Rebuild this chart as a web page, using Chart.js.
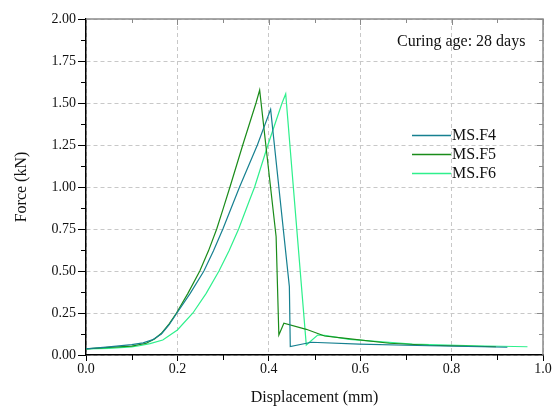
<!DOCTYPE html>
<html>
<head>
<meta charset="utf-8">
<script src="https://cdn.jsdelivr.net/npm/chart.js@4/dist/chart.umd.min.js"></script>
<style>
html,body{margin:0;padding:0;background:#fff;}
#c{display:block;}
</style>
</head>
<body>
<canvas id="c" width="557" height="412"></canvas>
<script>
// ---- data ----
const seriesNames = ["MS.F4", "MS.F5", "MS.F6"];
const seriesColors = ["#168090", "#1a8c1a", "#2ef08c"];

const f4X = [0, 0.05, 0.1, 0.125, 0.145, 0.165, 0.182, 0.199, 0.228, 0.258, 0.279, 0.2995, 0.336, 0.375, 0.404, 0.445, 0.447, 0.493, 0.598, 0.75, 0.922];
const f4Y = [0.037, 0.048, 0.062, 0.072, 0.09, 0.125, 0.18, 0.25, 0.367, 0.5, 0.62, 0.75, 1.0, 1.25, 1.462, 0.407, 0.05, 0.076, 0.065, 0.055, 0.046];

const f5X = [0, 0.05, 0.1, 0.132, 0.15, 0.165, 0.182, 0.198, 0.223, 0.249, 0.268, 0.286, 0.300, 0.315, 0.343, 0.372, 0.380, 0.416, 0.422, 0.433, 0.482, 0.522, 0.569, 0.664, 0.75, 0.85, 0.897];
const f5Y = [0.037, 0.045, 0.053, 0.07, 0.095, 0.129, 0.185, 0.25, 0.367, 0.5, 0.62, 0.75, 0.87, 1.0, 1.25, 1.5, 1.577, 0.704, 0.119, 0.189, 0.153, 0.113, 0.099, 0.07, 0.058, 0.052, 0.049];

const f6X = [0, 0.05, 0.1, 0.117, 0.14, 0.168, 0.2, 0.234, 0.263, 0.291, 0.313, 0.334, 0.358, 0.369, 0.398, 0.429, 0.437, 0.482, 0.507, 0.522, 0.576, 0.714, 0.85, 0.966];
const f6Y = [0.037, 0.04, 0.048, 0.055, 0.068, 0.089, 0.149, 0.25, 0.367, 0.5, 0.62, 0.75, 0.923, 1.0, 1.25, 1.5, 1.554, 0.06, 0.119, 0.117, 0.093, 0.065, 0.055, 0.049];

const xTickValues = [0, 0.2, 0.4, 0.6, 0.8, 1.0];
const yTickValues = [0, 0.25, 0.5, 0.75, 1.0, 1.25, 1.5, 1.75, 2.0];
const xTitle = "Displacement (mm)";
const yTitle = "Force (kN)";
const annotationText = "Curing age: 28 days";

const FONT = "'Liberation Serif', 'Times New Roman', serif";

function pts(xs, ys) { return xs.map((x, i) => ({x: x, y: ys[i]})); }

const datasets = [
  {label: seriesNames[0], data: pts(f4X, f4Y)},
  {label: seriesNames[1], data: pts(f5X, f5Y)},
  {label: seriesNames[2], data: pts(f6X, f6Y)}
].map((d, i) => Object.assign(d, {
  borderColor: seriesColors[i], backgroundColor: seriesColors[i],
  borderWidth: 1.2, showLine: true, pointRadius: 0, tension: 0, fill: false
}));

const extras = {
  id: 'extras',
  afterDraw(chart) {
    const ctx = chart.ctx;
    const xs = chart.scales.x, ys = chart.scales.y;
    const a = chart.chartArea;
    ctx.save();
    // top and right frame (grey)
    ctx.strokeStyle = '#8a8a8a';
    ctx.lineWidth = 1.5;
    ctx.beginPath();
    ctx.moveTo(a.left, a.top); ctx.lineTo(a.right, a.top); ctx.lineTo(a.right, a.bottom);
    ctx.stroke();
    // inward ticks on top and right
    ctx.lineWidth = 1;
    for (let v = 0.1; v < 1.0001; v += 0.1) {
      const px = Math.round(xs.getPixelForValue(v)) + 0.5;
      const major = Math.abs(v * 5 - Math.round(v * 5)) < 1e-6;
      ctx.beginPath(); ctx.moveTo(px, a.top); ctx.lineTo(px, a.top + (major ? 6 : 4)); ctx.stroke();
    }
    for (let v = 0.125; v < 2.0001; v += 0.125) {
      const py = Math.round(ys.getPixelForValue(v)) + 0.5;
      const major = Math.abs(v * 4 - Math.round(v * 4)) < 1e-6;
      ctx.beginPath(); ctx.moveTo(a.right, py); ctx.lineTo(a.right - (major ? 6 : 4), py); ctx.stroke();
    }
    // minor outward ticks on bottom and left
    ctx.strokeStyle = '#000';
    ctx.lineWidth = 1;
    for (let v = 0.1; v < 1.0; v += 0.2) {
      const px = Math.round(xs.getPixelForValue(v)) + 0.5;
      ctx.beginPath(); ctx.moveTo(px, a.bottom); ctx.lineTo(px, a.bottom + 5); ctx.stroke();
    }
    for (let v = 0.125; v < 2.0; v += 0.25) {
      const py = Math.round(ys.getPixelForValue(v)) + 0.5;
      ctx.beginPath(); ctx.moveTo(a.left, py); ctx.lineTo(a.left - 5, py); ctx.stroke();
    }
    // annotation
    ctx.fillStyle = '#111';
    ctx.font = '16px ' + FONT;
    ctx.textBaseline = 'middle';
    ctx.textAlign = 'left';
    ctx.fillText(annotationText, 397, 42);
    // legend
    chart.data.datasets.forEach((d, i) => {
      const y = 135 + i * 19;
      ctx.strokeStyle = d.borderColor;
      ctx.lineWidth = 1.6;
      ctx.beginPath(); ctx.moveTo(412, y + 0.5); ctx.lineTo(451, y + 0.5); ctx.stroke();
      ctx.fillStyle = '#111';
      ctx.fillText(d.label, 452, y + 1);
    });
    ctx.restore();
  }
};

new Chart(document.getElementById('c'), {
  type: 'scatter',
  data: {datasets: datasets},
  options: {
    responsive: false,
    animation: false,
    devicePixelRatio: 1,
    layout: {padding: {top: 19, right: 14, left: 0, bottom: 0}},
    plugins: {legend: {display: false}, tooltip: {enabled: false}},
    scales: {
      x: {
        type: 'linear', min: 0, max: 1,
        afterBuildTicks(s) { s.ticks = xTickValues.map(v => ({value: v})); },
        afterFit(s) { s.height = 57; },
        ticks: {color: '#111', font: {family: FONT, size: 14}, padding: 0,
                callback: v => Number(v).toFixed(1), maxRotation: 0, autoSkip: false},
        grid: {color: '#c8c8c8', lineWidth: 1, tickLength: 6, tickColor: '#000', drawTicks: true},
        border: {color: '#000', width: 1.5, dash: [4, 3]},
        title: {display: true, text: xTitle, color: '#111', font: {family: FONT, size: 16}, padding: {top: 6, bottom: 5}}
      },
      y: {
        type: 'linear', min: 0, max: 2,
        afterBuildTicks(s) { s.ticks = yTickValues.map(v => ({value: v})); },
        afterFit(s) { s.width = 86; },
        ticks: {color: '#111', font: {family: FONT, size: 14}, padding: 2,
                callback: v => Number(v).toFixed(2), autoSkip: false},
        grid: {color: '#c8c8c8', lineWidth: 1, tickLength: 8, tickColor: '#000', drawTicks: true},
        border: {color: '#000', width: 1.5, dash: [4, 3]},
        title: {display: true, text: yTitle, color: '#111', font: {family: FONT, size: 16}, padding: {top: 12, bottom: 4}}
      }
    }
  },
  plugins: [extras]
});
</script>
</body>
</html>
